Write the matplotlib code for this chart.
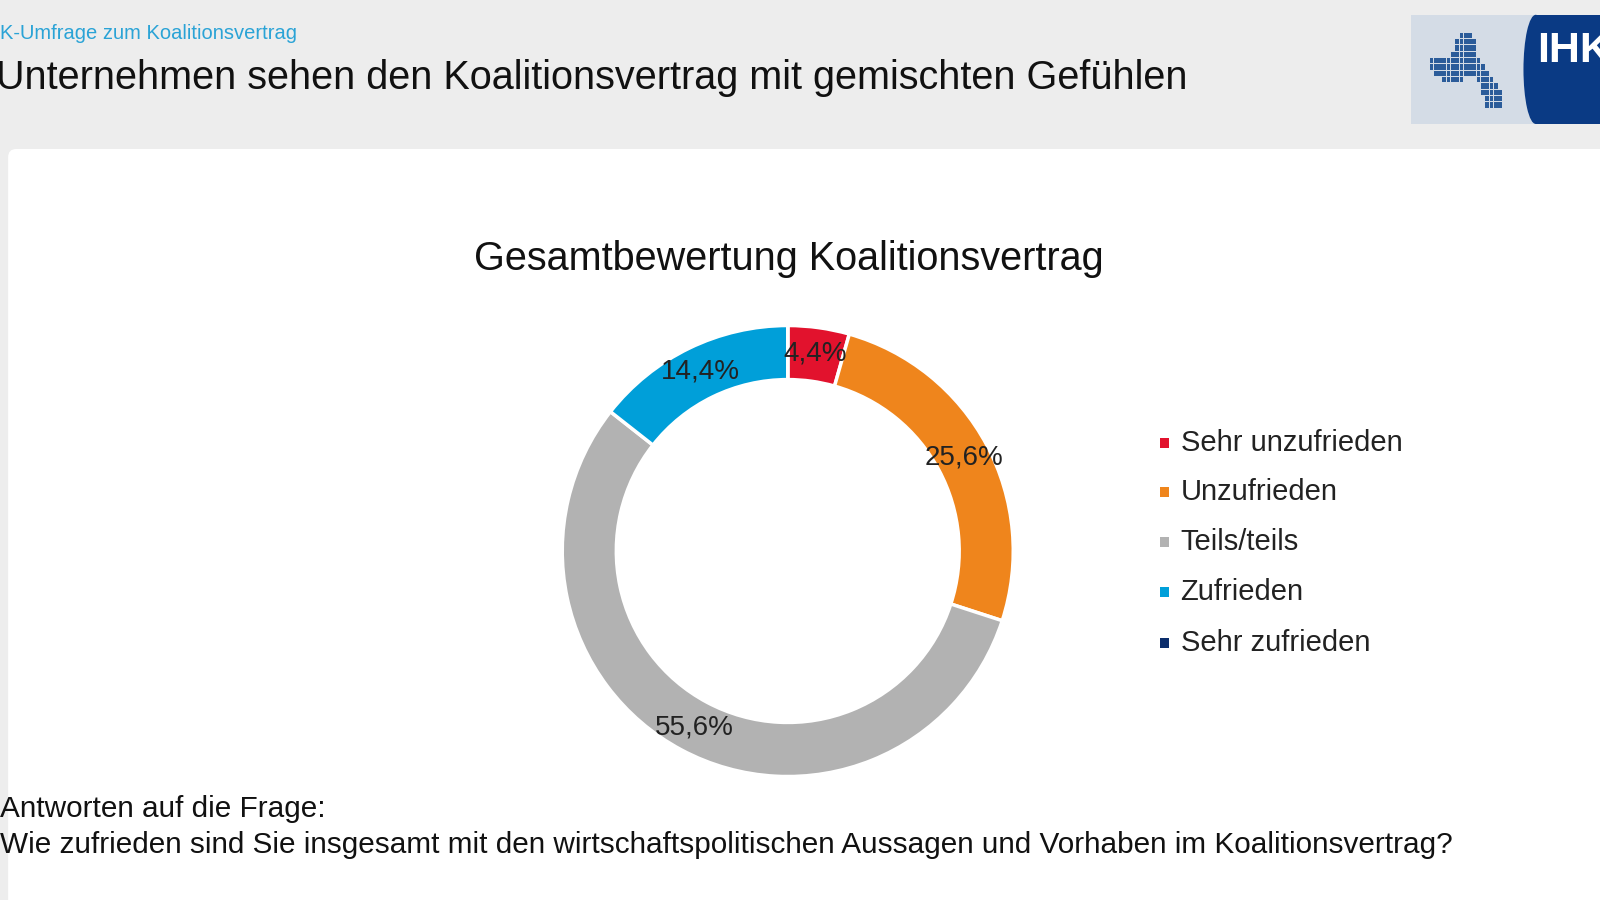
import matplotlib
matplotlib.use("Agg")
import matplotlib.pyplot as plt
from matplotlib.patches import Rectangle, FancyBboxPatch, Ellipse
import numpy as np

categories = ["Sehr unzufrieden", "Unzufrieden", "Teils/teils", "Zufrieden", "Sehr zufrieden"]
values = [4.4, 25.6, 55.6, 14.4, 0.0]
labels = ["4,4%", "25,6%", "55,6%", "14,4%", ""]
colors = ["#e2122d", "#ef851c", "#b2b2b2", "#009fd9", "#0b2d6b"]

W, H = 1568.0, 882.0
fx = lambda x: x / W
fy = lambda y: 1 - y / H

fig = plt.figure(figsize=(16, 9), dpi=100)
fig.patch.set_facecolor("#ededed")
font = "Liberation Sans"

bg = fig.add_axes([0, 0, 1, 1]); bg.set_xlim(0, W); bg.set_ylim(H, 0); bg.axis("off")
bg.add_patch(FancyBboxPatch((8, 146), W, H, boxstyle="round,pad=0,rounding_size=8",
                            fc="white", ec="none"))
# logo
bg.add_patch(Rectangle((1383, 15), 120, 107, fc="#d4dce6", ec="none"))
bg.add_patch(Rectangle((1505, 15), 70, 107, fc="#0a3a84", ec="none"))
bg.add_patch(Ellipse((1505, 68), 24, 107, fc="#0a3a84", ec="none"))
bg.text(1506, 50, "IHK", color="white", fontsize=31, fontweight="bold", family=font,
        va="center", ha="left", clip_on=True)
cells = [(7,0),(8,0),(9,0),(6,1),(7,1),(8,1),(9,1),(10,1),(6,2),(7,2),(8,2),(9,2),(10,2),
         (5,3),(6,3),(7,3),(8,3),(9,3),(10,3),(0,4),(1,4),(2,4),(3,4),(4,4),(5,4),(6,4),(7,4),(8,4),(9,4),(10,4),(11,4),
         (0,5),(1,5),(2,5),(3,5),(4,5),(5,5),(6,5),(7,5),(8,5),(9,5),(10,5),(11,5),(12,5),
         (1,6),(2,6),(3,6),(4,6),(5,6),(6,6),(7,6),(8,6),(9,6),(10,6),(11,6),(12,6),(13,6),
         (3,7),(4,7),(5,7),(6,7),(7,7),(11,7),(12,7),(13,7),(14,7),
         (12,8),(13,8),(14,8),(15,8),(12,9),(13,9),(14,9),(15,9),(16,9),(13,10),(14,10),(15,10),(16,10),(13,11),(14,11),(15,11),(16,11)]
for cx, cy in cells:
    bg.add_patch(Rectangle((1401 + cx * 4.2, 32 + cy * 6.2), 3.6, 5.4, fc="#2b5c9a", ec="none"))

bg.text(0, 33, "K-Umfrage zum Koalitionsvertrag", color="#2aa3d6", fontsize=14.5,
        family=font, va="center", ha="left")
bg.text(-4, 76, "Unternehmen sehen den Koalitionsvertrag mit gemischten Gefühlen",
        color="#111111", fontsize=28.5, family=font, va="center", ha="left")
bg.text(773, 254, "Gesamtbewertung Koalitionsvertrag", color="#111111",
        fontsize=28.5, family=font, va="center", ha="center")

cxp, cyp, R = 772, 540, 221
h = 2 * R / H
w = h * 9 / 16
ax = fig.add_axes([fx(cxp) - w / 2, fy(cyp) - h / 2, w, h])
ax.pie(values, colors=colors, startangle=90, counterclock=False, radius=1,
       wedgeprops=dict(width=53 / R, edgecolor="white", linewidth=2.5))
cum = 0
for v, lab in zip(values, labels):
    mid = np.deg2rad(90 - (cum + v / 2) * 3.6)
    cum += v
    if lab:
        ax.text(0.885 * np.cos(mid), 0.885 * np.sin(mid), lab, ha="center", va="center",
                fontsize=20, family=font, color="#222222")
ax.set_xlim(-1, 1); ax.set_ylim(-1, 1); ax.set_aspect("equal"); ax.axis("off")

for i, (c, col) in enumerate(zip(categories, colors)):
    y = [434, 482, 531, 580, 630][i]
    bg.add_patch(Rectangle((1137, y - 5), 9, 10, fc=col, ec="none"))
    bg.text(1157, y, c, fontsize=21, family=font, va="center", ha="left", color="#222222")

bg.text(0, 793, "Antworten auf die Frage:", fontsize=21.4, family=font, va="center", color="#111111")
bg.text(0, 828, "Wie zufrieden sind Sie insgesamt mit den wirtschaftspolitischen Aussagen und Vorhaben im Koalitionsvertrag?",
        fontsize=21.4, family=font, va="center", color="#111111")

fig.savefig("out.png", dpi=100)
